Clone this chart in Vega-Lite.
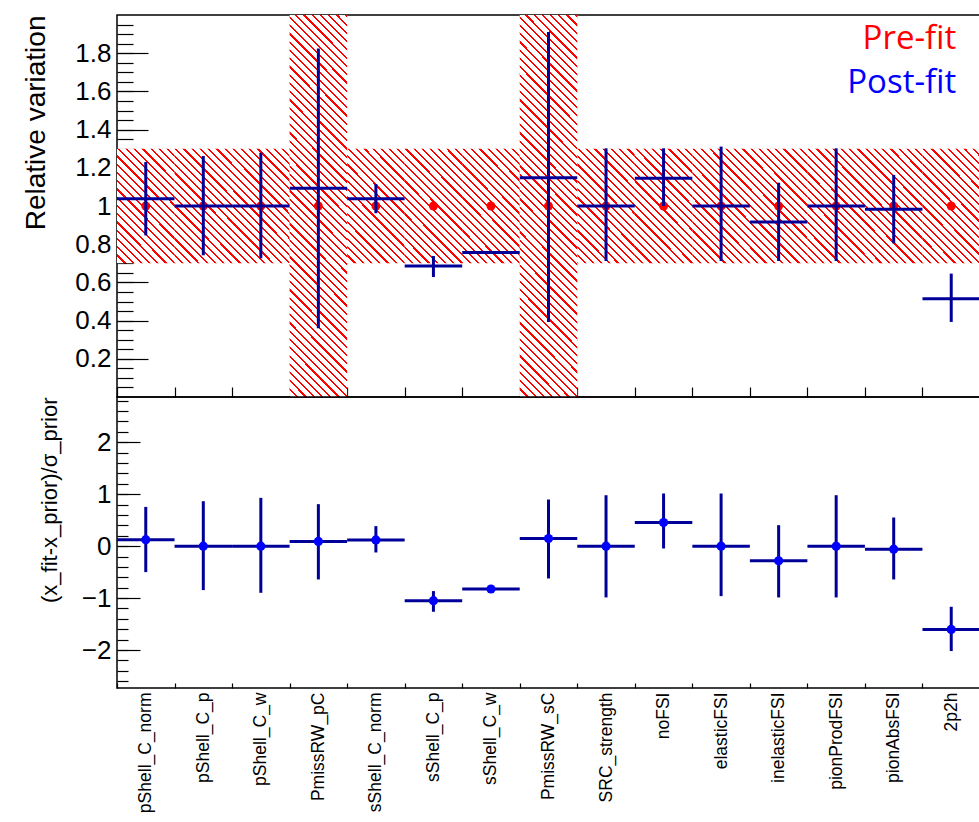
{
  "$schema": "https://vega.github.io/schema/vega-lite/v6.json",
  "padding": {"left": 22, "top": 10, "right": 0, "bottom": 0},
  "background": "white",
  "spacing": 0,
  "bounds": "flush",
  "config": {
    "view": {"stroke": "black", "strokeWidth": 1.5},
    "font": "Liberation Sans",
    "axis": {"domain": false, "grid": false, "zindex": 1, "tickColor": "black", "labelColor": "black", "titleColor": "black", "labelFont": "Liberation Sans", "titleFont": "Liberation Sans", "titleFontWeight": "normal", "labelOverlap": false, "tickWidth": 1.2}
  },
  "data": {"values": [
    {"name": "pShell_C_norm", "pre": 1, "prior_lo": 0.7, "prior_hi": 1.3, "fit": 1.038, "fit_lo": 0.846, "fit_hi": 1.230, "pull": 0.125, "pull_lo": -0.50, "pull_hi": 0.755},
    {"name": "pShell_C_p", "pre": 1, "prior_lo": 0.7, "prior_hi": 1.3, "fit": 1.0, "fit_lo": 0.742, "fit_hi": 1.262, "pull": 0.0, "pull_lo": -0.846, "pull_hi": 0.865},
    {"name": "pShell_C_w", "pre": 1, "prior_lo": 0.7, "prior_hi": 1.3, "fit": 1.0, "fit_lo": 0.726, "fit_hi": 1.279, "pull": 0.0, "pull_lo": -0.898, "pull_hi": 0.929},
    {"name": "PmissRW_pC", "pre": 1, "prior_lo": 0.0, "prior_hi": 2.0, "fit": 1.093, "fit_lo": 0.360, "fit_hi": 1.824, "pull": 0.09, "pull_lo": -0.641, "pull_hi": 0.808},
    {"name": "sShell_C_norm", "pre": 1, "prior_lo": 0.7, "prior_hi": 1.3, "fit": 1.038, "fit_lo": 0.962, "fit_hi": 1.115, "pull": 0.12, "pull_lo": -0.122, "pull_hi": 0.385},
    {"name": "sShell_C_p", "pre": 1, "prior_lo": 0.7, "prior_hi": 1.3, "fit": 0.686, "fit_lo": 0.628, "fit_hi": 0.738, "pull": -1.05, "pull_lo": -1.263, "pull_hi": -0.865},
    {"name": "sShell_C_w", "pre": 1, "prior_lo": 0.7, "prior_hi": 1.3, "fit": 0.757, "fit_lo": 0.752, "fit_hi": 0.762, "pull": -0.825, "pull_lo": -0.845, "pull_hi": -0.805},
    {"name": "PmissRW_sC", "pre": 1, "prior_lo": 0.0, "prior_hi": 2.0, "fit": 1.148, "fit_lo": 0.393, "fit_hi": 1.911, "pull": 0.147, "pull_lo": -0.622, "pull_hi": 0.897},
    {"name": "SRC_strength", "pre": 1, "prior_lo": 0.7, "prior_hi": 1.3, "fit": 1.0, "fit_lo": 0.712, "fit_hi": 1.302, "pull": 0.0, "pull_lo": -0.987, "pull_hi": 0.98},
    {"name": "noFSI", "pre": 1, "prior_lo": 0.7, "prior_hi": 1.3, "fit": 1.145, "fit_lo": 1.0, "fit_hi": 1.302, "pull": 0.455, "pull_lo": -0.045, "pull_hi": 1.013},
    {"name": "elasticFSI", "pre": 1, "prior_lo": 0.7, "prior_hi": 1.3, "fit": 1.0, "fit_lo": 0.712, "fit_hi": 1.311, "pull": 0.0, "pull_lo": -0.962, "pull_hi": 1.013},
    {"name": "inelasticFSI", "pre": 1, "prior_lo": 0.7, "prior_hi": 1.3, "fit": 0.916, "fit_lo": 0.712, "fit_hi": 1.122, "pull": -0.282, "pull_lo": -0.987, "pull_hi": 0.404},
    {"name": "pionProdFSI", "pre": 1, "prior_lo": 0.7, "prior_hi": 1.3, "fit": 1.0, "fit_lo": 0.712, "fit_hi": 1.302, "pull": 0.0, "pull_lo": -0.987, "pull_hi": 0.98},
    {"name": "pionAbsFSI", "pre": 1, "prior_lo": 0.7, "prior_hi": 1.3, "fit": 0.983, "fit_lo": 0.805, "fit_hi": 1.162, "pull": -0.058, "pull_lo": -0.641, "pull_hi": 0.551},
    {"name": "2p2h", "pre": 1, "prior_lo": 0.7, "prior_hi": 1.3, "fit": 0.515, "fit_lo": 0.393, "fit_hi": 0.646, "pull": -1.603, "pull_lo": -2.019, "pull_hi": -1.167}
  ]},
  "vconcat": [
    {
      "width": 863,
      "height": 382,
      "layer": [
        {
          "transform": [{"filter": "datum.prior_hi - datum.prior_lo < 1"}],
          "mark": {"type": "rect", "clip": true, "fill": {"gradient": "linear", "x1": 0, "y1": 1, "x2": 0.6049, "y2": -0.1993, "stops": [
            {"offset": 0, "color": "#ff0000"}, {"offset": 0.0064, "color": "#ff0000"}, {"offset": 0.0064, "color": "#ffffff"},
            {"offset": 0.0415, "color": "#ffffff"}, {"offset": 0.0415, "color": "#ff0000"}, {"offset": 0.0543, "color": "#ff0000"}, {"offset": 0.0543, "color": "#ffffff"},
            {"offset": 0.0894, "color": "#ffffff"}, {"offset": 0.0894, "color": "#ff0000"}, {"offset": 0.1022, "color": "#ff0000"}, {"offset": 0.1022, "color": "#ffffff"},
            {"offset": 0.1373, "color": "#ffffff"}, {"offset": 0.1373, "color": "#ff0000"}, {"offset": 0.1501, "color": "#ff0000"}, {"offset": 0.1501, "color": "#ffffff"},
            {"offset": 0.1852, "color": "#ffffff"}, {"offset": 0.1852, "color": "#ff0000"}, {"offset": 0.1980, "color": "#ff0000"}, {"offset": 0.1980, "color": "#ffffff"},
            {"offset": 0.2332, "color": "#ffffff"}, {"offset": 0.2332, "color": "#ff0000"}, {"offset": 0.2460, "color": "#ff0000"}, {"offset": 0.2460, "color": "#ffffff"},
            {"offset": 0.2811, "color": "#ffffff"}, {"offset": 0.2811, "color": "#ff0000"}, {"offset": 0.2939, "color": "#ff0000"}, {"offset": 0.2939, "color": "#ffffff"},
            {"offset": 0.3290, "color": "#ffffff"}, {"offset": 0.3290, "color": "#ff0000"}, {"offset": 0.3418, "color": "#ff0000"}, {"offset": 0.3418, "color": "#ffffff"},
            {"offset": 0.3769, "color": "#ffffff"}, {"offset": 0.3769, "color": "#ff0000"}, {"offset": 0.3897, "color": "#ff0000"}, {"offset": 0.3897, "color": "#ffffff"},
            {"offset": 0.4248, "color": "#ffffff"}, {"offset": 0.4248, "color": "#ff0000"}, {"offset": 0.4376, "color": "#ff0000"}, {"offset": 0.4376, "color": "#ffffff"},
            {"offset": 0.4727, "color": "#ffffff"}, {"offset": 0.4727, "color": "#ff0000"}, {"offset": 0.4855, "color": "#ff0000"}, {"offset": 0.4855, "color": "#ffffff"},
            {"offset": 0.5206, "color": "#ffffff"}, {"offset": 0.5206, "color": "#ff0000"}, {"offset": 0.5334, "color": "#ff0000"}, {"offset": 0.5334, "color": "#ffffff"},
            {"offset": 0.5685, "color": "#ffffff"}, {"offset": 0.5685, "color": "#ff0000"}, {"offset": 0.5813, "color": "#ff0000"}, {"offset": 0.5813, "color": "#ffffff"},
            {"offset": 0.6165, "color": "#ffffff"}, {"offset": 0.6165, "color": "#ff0000"}, {"offset": 0.6293, "color": "#ff0000"}, {"offset": 0.6293, "color": "#ffffff"},
            {"offset": 0.6644, "color": "#ffffff"}, {"offset": 0.6644, "color": "#ff0000"}, {"offset": 0.6772, "color": "#ff0000"}, {"offset": 0.6772, "color": "#ffffff"},
            {"offset": 0.7123, "color": "#ffffff"}, {"offset": 0.7123, "color": "#ff0000"}, {"offset": 0.7251, "color": "#ff0000"}, {"offset": 0.7251, "color": "#ffffff"},
            {"offset": 0.7602, "color": "#ffffff"}, {"offset": 0.7602, "color": "#ff0000"}, {"offset": 0.7730, "color": "#ff0000"}, {"offset": 0.7730, "color": "#ffffff"},
            {"offset": 0.8081, "color": "#ffffff"}, {"offset": 0.8081, "color": "#ff0000"}, {"offset": 0.8209, "color": "#ff0000"}, {"offset": 0.8209, "color": "#ffffff"},
            {"offset": 0.8560, "color": "#ffffff"}, {"offset": 0.8560, "color": "#ff0000"}, {"offset": 0.8688, "color": "#ff0000"}, {"offset": 0.8688, "color": "#ffffff"},
            {"offset": 0.9039, "color": "#ffffff"}, {"offset": 0.9039, "color": "#ff0000"}, {"offset": 0.9167, "color": "#ff0000"}, {"offset": 0.9167, "color": "#ffffff"},
            {"offset": 0.9518, "color": "#ffffff"}, {"offset": 0.9518, "color": "#ff0000"}, {"offset": 0.9646, "color": "#ff0000"}, {"offset": 0.9646, "color": "#ffffff"},
            {"offset": 1, "color": "#ffffff"}
          ]}},
          "encoding": {
            "x": {"field": "name", "type": "nominal", "sort": null,
              "scale": {"domain": ["pShell_C_norm", "pShell_C_p", "pShell_C_w", "PmissRW_pC", "sShell_C_norm", "sShell_C_p", "sShell_C_w", "PmissRW_sC", "SRC_strength", "noFSI", "elasticFSI", "inelasticFSI", "pionProdFSI", "pionAbsFSI", "2p2h"], "paddingInner": 0, "paddingOuter": 0},
              "axis": {"title": null, "labels": false, "tickBand": "extent", "tickSize": -10}},
            "y": {"field": "prior_lo", "type": "quantitative",
              "scale": {"domain": [0, 2], "nice": false, "zero": false},
              "axis": {"title": "Relative variation", "titleFontSize": 28, "titleAnchor": "end", "titlePadding": 24,
                "values": [0.05,0.1,0.15,0.2,0.25,0.3,0.35,0.4,0.45,0.5,0.55,0.6,0.65,0.7,0.75,0.8,0.85,0.9,0.95,1,1.05,1.1,1.15,1.2,1.25,1.3,1.35,1.4,1.45,1.5,1.55,1.6,1.65,1.7,1.75,1.8,1.85,1.9,1.95],
                "tickCount": 200,
                "format": "~g",
                "labelExpr": "abs(datum.value*5-round(datum.value*5))<0.001 ? datum.label : ''",
                "labelFontSize": 26, "labelPadding": 22,
                "tickSize": -16,
                "grid": true, "gridColor": "black", "gridWidth": 1.2, "gridDash": [31, 4000],
                "gridOpacity": {"condition": {"test": "abs(datum.value*5-round(datum.value*5))<0.001", "value": 1}, "value": 0}}},
            "y2": {"field": "prior_hi"}
          }
        },
        {
          "transform": [{"filter": "datum.prior_hi - datum.prior_lo >= 1"}],
          "mark": {"type": "rect", "clip": true, "fill": {"gradient": "linear", "x1": 0, "y1": 1, "x2": 0.1703, "y2": -0.1256, "stops": [
            {"offset": 0, "color": "#ff0000"}, {"offset": 0.0025, "color": "#ff0000"}, {"offset": 0.0025, "color": "#ffffff"},
            {"offset": 0.0163, "color": "#ffffff"}, {"offset": 0.0163, "color": "#ff0000"}, {"offset": 0.0213, "color": "#ff0000"}, {"offset": 0.0213, "color": "#ffffff"},
            {"offset": 0.0351, "color": "#ffffff"}, {"offset": 0.0351, "color": "#ff0000"}, {"offset": 0.0401, "color": "#ff0000"}, {"offset": 0.0401, "color": "#ffffff"},
            {"offset": 0.0538, "color": "#ffffff"}, {"offset": 0.0538, "color": "#ff0000"}, {"offset": 0.0588, "color": "#ff0000"}, {"offset": 0.0588, "color": "#ffffff"},
            {"offset": 0.0726, "color": "#ffffff"}, {"offset": 0.0726, "color": "#ff0000"}, {"offset": 0.0776, "color": "#ff0000"}, {"offset": 0.0776, "color": "#ffffff"},
            {"offset": 0.0914, "color": "#ffffff"}, {"offset": 0.0914, "color": "#ff0000"}, {"offset": 0.0964, "color": "#ff0000"}, {"offset": 0.0964, "color": "#ffffff"},
            {"offset": 0.1102, "color": "#ffffff"}, {"offset": 0.1102, "color": "#ff0000"}, {"offset": 0.1152, "color": "#ff0000"}, {"offset": 0.1152, "color": "#ffffff"},
            {"offset": 0.1290, "color": "#ffffff"}, {"offset": 0.1290, "color": "#ff0000"}, {"offset": 0.1340, "color": "#ff0000"}, {"offset": 0.1340, "color": "#ffffff"},
            {"offset": 0.1477, "color": "#ffffff"}, {"offset": 0.1477, "color": "#ff0000"}, {"offset": 0.1527, "color": "#ff0000"}, {"offset": 0.1527, "color": "#ffffff"},
            {"offset": 0.1665, "color": "#ffffff"}, {"offset": 0.1665, "color": "#ff0000"}, {"offset": 0.1715, "color": "#ff0000"}, {"offset": 0.1715, "color": "#ffffff"},
            {"offset": 0.1853, "color": "#ffffff"}, {"offset": 0.1853, "color": "#ff0000"}, {"offset": 0.1903, "color": "#ff0000"}, {"offset": 0.1903, "color": "#ffffff"},
            {"offset": 0.2041, "color": "#ffffff"}, {"offset": 0.2041, "color": "#ff0000"}, {"offset": 0.2091, "color": "#ff0000"}, {"offset": 0.2091, "color": "#ffffff"},
            {"offset": 0.2229, "color": "#ffffff"}, {"offset": 0.2229, "color": "#ff0000"}, {"offset": 0.2279, "color": "#ff0000"}, {"offset": 0.2279, "color": "#ffffff"},
            {"offset": 0.2417, "color": "#ffffff"}, {"offset": 0.2417, "color": "#ff0000"}, {"offset": 0.2467, "color": "#ff0000"}, {"offset": 0.2467, "color": "#ffffff"},
            {"offset": 0.2604, "color": "#ffffff"}, {"offset": 0.2604, "color": "#ff0000"}, {"offset": 0.2654, "color": "#ff0000"}, {"offset": 0.2654, "color": "#ffffff"},
            {"offset": 0.2792, "color": "#ffffff"}, {"offset": 0.2792, "color": "#ff0000"}, {"offset": 0.2842, "color": "#ff0000"}, {"offset": 0.2842, "color": "#ffffff"},
            {"offset": 0.2980, "color": "#ffffff"}, {"offset": 0.2980, "color": "#ff0000"}, {"offset": 0.3030, "color": "#ff0000"}, {"offset": 0.3030, "color": "#ffffff"},
            {"offset": 0.3168, "color": "#ffffff"}, {"offset": 0.3168, "color": "#ff0000"}, {"offset": 0.3218, "color": "#ff0000"}, {"offset": 0.3218, "color": "#ffffff"},
            {"offset": 0.3356, "color": "#ffffff"}, {"offset": 0.3356, "color": "#ff0000"}, {"offset": 0.3406, "color": "#ff0000"}, {"offset": 0.3406, "color": "#ffffff"},
            {"offset": 0.3543, "color": "#ffffff"}, {"offset": 0.3543, "color": "#ff0000"}, {"offset": 0.3593, "color": "#ff0000"}, {"offset": 0.3593, "color": "#ffffff"},
            {"offset": 0.3731, "color": "#ffffff"}, {"offset": 0.3731, "color": "#ff0000"}, {"offset": 0.3781, "color": "#ff0000"}, {"offset": 0.3781, "color": "#ffffff"},
            {"offset": 0.3919, "color": "#ffffff"}, {"offset": 0.3919, "color": "#ff0000"}, {"offset": 0.3969, "color": "#ff0000"}, {"offset": 0.3969, "color": "#ffffff"},
            {"offset": 0.4107, "color": "#ffffff"}, {"offset": 0.4107, "color": "#ff0000"}, {"offset": 0.4157, "color": "#ff0000"}, {"offset": 0.4157, "color": "#ffffff"},
            {"offset": 0.4295, "color": "#ffffff"}, {"offset": 0.4295, "color": "#ff0000"}, {"offset": 0.4345, "color": "#ff0000"}, {"offset": 0.4345, "color": "#ffffff"},
            {"offset": 0.4482, "color": "#ffffff"}, {"offset": 0.4482, "color": "#ff0000"}, {"offset": 0.4532, "color": "#ff0000"}, {"offset": 0.4532, "color": "#ffffff"},
            {"offset": 0.4670, "color": "#ffffff"}, {"offset": 0.4670, "color": "#ff0000"}, {"offset": 0.4720, "color": "#ff0000"}, {"offset": 0.4720, "color": "#ffffff"},
            {"offset": 0.4858, "color": "#ffffff"}, {"offset": 0.4858, "color": "#ff0000"}, {"offset": 0.4908, "color": "#ff0000"}, {"offset": 0.4908, "color": "#ffffff"},
            {"offset": 0.5046, "color": "#ffffff"}, {"offset": 0.5046, "color": "#ff0000"}, {"offset": 0.5096, "color": "#ff0000"}, {"offset": 0.5096, "color": "#ffffff"},
            {"offset": 0.5234, "color": "#ffffff"}, {"offset": 0.5234, "color": "#ff0000"}, {"offset": 0.5284, "color": "#ff0000"}, {"offset": 0.5284, "color": "#ffffff"},
            {"offset": 0.5421, "color": "#ffffff"}, {"offset": 0.5421, "color": "#ff0000"}, {"offset": 0.5471, "color": "#ff0000"}, {"offset": 0.5471, "color": "#ffffff"},
            {"offset": 0.5609, "color": "#ffffff"}, {"offset": 0.5609, "color": "#ff0000"}, {"offset": 0.5659, "color": "#ff0000"}, {"offset": 0.5659, "color": "#ffffff"},
            {"offset": 0.5797, "color": "#ffffff"}, {"offset": 0.5797, "color": "#ff0000"}, {"offset": 0.5847, "color": "#ff0000"}, {"offset": 0.5847, "color": "#ffffff"},
            {"offset": 0.5985, "color": "#ffffff"}, {"offset": 0.5985, "color": "#ff0000"}, {"offset": 0.6035, "color": "#ff0000"}, {"offset": 0.6035, "color": "#ffffff"},
            {"offset": 0.6173, "color": "#ffffff"}, {"offset": 0.6173, "color": "#ff0000"}, {"offset": 0.6223, "color": "#ff0000"}, {"offset": 0.6223, "color": "#ffffff"},
            {"offset": 0.6361, "color": "#ffffff"}, {"offset": 0.6361, "color": "#ff0000"}, {"offset": 0.6411, "color": "#ff0000"}, {"offset": 0.6411, "color": "#ffffff"},
            {"offset": 0.6548, "color": "#ffffff"}, {"offset": 0.6548, "color": "#ff0000"}, {"offset": 0.6598, "color": "#ff0000"}, {"offset": 0.6598, "color": "#ffffff"},
            {"offset": 0.6736, "color": "#ffffff"}, {"offset": 0.6736, "color": "#ff0000"}, {"offset": 0.6786, "color": "#ff0000"}, {"offset": 0.6786, "color": "#ffffff"},
            {"offset": 0.6924, "color": "#ffffff"}, {"offset": 0.6924, "color": "#ff0000"}, {"offset": 0.6974, "color": "#ff0000"}, {"offset": 0.6974, "color": "#ffffff"},
            {"offset": 0.7112, "color": "#ffffff"}, {"offset": 0.7112, "color": "#ff0000"}, {"offset": 0.7162, "color": "#ff0000"}, {"offset": 0.7162, "color": "#ffffff"},
            {"offset": 0.7300, "color": "#ffffff"}, {"offset": 0.7300, "color": "#ff0000"}, {"offset": 0.7350, "color": "#ff0000"}, {"offset": 0.7350, "color": "#ffffff"},
            {"offset": 0.7487, "color": "#ffffff"}, {"offset": 0.7487, "color": "#ff0000"}, {"offset": 0.7537, "color": "#ff0000"}, {"offset": 0.7537, "color": "#ffffff"},
            {"offset": 0.7675, "color": "#ffffff"}, {"offset": 0.7675, "color": "#ff0000"}, {"offset": 0.7725, "color": "#ff0000"}, {"offset": 0.7725, "color": "#ffffff"},
            {"offset": 0.7863, "color": "#ffffff"}, {"offset": 0.7863, "color": "#ff0000"}, {"offset": 0.7913, "color": "#ff0000"}, {"offset": 0.7913, "color": "#ffffff"},
            {"offset": 0.8051, "color": "#ffffff"}, {"offset": 0.8051, "color": "#ff0000"}, {"offset": 0.8101, "color": "#ff0000"}, {"offset": 0.8101, "color": "#ffffff"},
            {"offset": 0.8239, "color": "#ffffff"}, {"offset": 0.8239, "color": "#ff0000"}, {"offset": 0.8289, "color": "#ff0000"}, {"offset": 0.8289, "color": "#ffffff"},
            {"offset": 0.8426, "color": "#ffffff"}, {"offset": 0.8426, "color": "#ff0000"}, {"offset": 0.8476, "color": "#ff0000"}, {"offset": 0.8476, "color": "#ffffff"},
            {"offset": 0.8614, "color": "#ffffff"}, {"offset": 0.8614, "color": "#ff0000"}, {"offset": 0.8664, "color": "#ff0000"}, {"offset": 0.8664, "color": "#ffffff"},
            {"offset": 0.8802, "color": "#ffffff"}, {"offset": 0.8802, "color": "#ff0000"}, {"offset": 0.8852, "color": "#ff0000"}, {"offset": 0.8852, "color": "#ffffff"},
            {"offset": 0.8990, "color": "#ffffff"}, {"offset": 0.8990, "color": "#ff0000"}, {"offset": 0.9040, "color": "#ff0000"}, {"offset": 0.9040, "color": "#ffffff"},
            {"offset": 0.9178, "color": "#ffffff"}, {"offset": 0.9178, "color": "#ff0000"}, {"offset": 0.9228, "color": "#ff0000"}, {"offset": 0.9228, "color": "#ffffff"},
            {"offset": 0.9366, "color": "#ffffff"}, {"offset": 0.9366, "color": "#ff0000"}, {"offset": 0.9416, "color": "#ff0000"}, {"offset": 0.9416, "color": "#ffffff"},
            {"offset": 0.9553, "color": "#ffffff"}, {"offset": 0.9553, "color": "#ff0000"}, {"offset": 0.9603, "color": "#ff0000"}, {"offset": 0.9603, "color": "#ffffff"},
            {"offset": 0.9741, "color": "#ffffff"}, {"offset": 0.9741, "color": "#ff0000"}, {"offset": 0.9791, "color": "#ff0000"}, {"offset": 0.9791, "color": "#ffffff"},
            {"offset": 0.9929, "color": "#ffffff"}, {"offset": 0.9929, "color": "#ff0000"}, {"offset": 0.9979, "color": "#ff0000"}, {"offset": 0.9979, "color": "#ffffff"},
            {"offset": 1, "color": "#ffffff"}
          ]}},
          "encoding": {
            "x": {"field": "name", "type": "nominal", "sort": null},
            "y": {"field": "prior_lo", "type": "quantitative"},
            "y2": {"field": "prior_hi"}
          }
        },
        {
          "mark": {"type": "point", "filled": true, "color": "#ff0000", "size": 80, "opacity": 1},
          "encoding": {
            "x": {"field": "name", "type": "nominal", "sort": null},
            "y": {"field": "pre", "type": "quantitative"}
          }
        },
        {
          "mark": {"type": "tick", "orient": "horizontal", "color": "#000099", "thickness": 3, "size": 57.5, "opacity": 1},
          "encoding": {
            "x": {"field": "name", "type": "nominal", "sort": null},
            "y": {"field": "fit", "type": "quantitative"}
          }
        },
        {
          "mark": {"type": "rule", "color": "#000099", "strokeWidth": 3},
          "encoding": {
            "x": {"field": "name", "type": "nominal", "sort": null},
            "y": {"field": "fit_lo", "type": "quantitative"},
            "y2": {"field": "fit_hi"}
          }
        },
        {
          "data": {"values": [{"series": "Pre-fit"}]},
          "mark": {"type": "text", "align": "right", "baseline": "alphabetic", "font": "Open Sans", "fontSize": 33, "color": "#ff0000", "dx": 5},
          "encoding": {
            "x": {"datum": "2p2h", "type": "nominal"},
            "y": {"datum": 1.822, "type": "quantitative"},
            "text": {"field": "series"}
          }
        },
        {
          "data": {"values": [{"series": "Post-fit"}]},
          "mark": {"type": "text", "align": "right", "baseline": "alphabetic", "font": "Open Sans", "fontSize": 33, "color": "#0000ff", "dx": 5},
          "encoding": {
            "x": {"datum": "2p2h", "type": "nominal"},
            "y": {"datum": 1.592, "type": "quantitative"},
            "text": {"field": "series"}
          }
        }
      ]
    },
    {
      "width": 863,
      "height": 291,
      "layer": [
        {
          "mark": {"type": "tick", "orient": "horizontal", "color": "#000099", "thickness": 3, "size": 57.5, "opacity": 1},
          "encoding": {
            "x": {"field": "name", "type": "nominal", "sort": null,
              "scale": {"domain": ["pShell_C_norm", "pShell_C_p", "pShell_C_w", "PmissRW_pC", "sShell_C_norm", "sShell_C_p", "sShell_C_w", "PmissRW_sC", "SRC_strength", "noFSI", "elasticFSI", "inelasticFSI", "pionProdFSI", "pionAbsFSI", "2p2h"], "paddingInner": 0, "paddingOuter": 0},
              "axis": {"title": null, "labelAngle": -90, "labelAlign": "right", "labelBaseline": "middle", "labelFontSize": 17.5, "labelPadding": 9, "tickBand": "extent", "tickSize": -5}},
            "y": {"field": "pull", "type": "quantitative",
              "scale": {"domain": [-2.73, 2.87], "nice": false, "zero": false},
              "axis": {"title": "(x_fit-x_prior)/σ_prior", "titleFontSize": 22, "titleAnchor": "end", "titlePadding": 20,
                "values": [-2.6,-2.4,-2.2,-2,-1.8,-1.6,-1.4,-1.2,-1,-0.8,-0.6,-0.4,-0.2,0,0.2,0.4,0.6,0.8,1,1.2,1.4,1.6,1.8,2,2.2,2.4,2.6,2.8],
                "tickCount": 200,
                "format": "~g",
                "labelExpr": "abs(datum.value-round(datum.value))<0.001 ? datum.label : ''",
                "labelFontSize": 26, "labelPadding": 17,
                "tickSize": -11,
                "grid": true, "gridColor": "black", "gridWidth": 1.2, "gridDash": [23, 4000],
                "gridOpacity": {"condition": {"test": "abs(datum.value-round(datum.value))<0.001", "value": 1}, "value": 0}}}
          }
        },
        {
          "mark": {"type": "rule", "color": "#000099", "strokeWidth": 3},
          "encoding": {
            "x": {"field": "name", "type": "nominal", "sort": null},
            "y": {"field": "pull_lo", "type": "quantitative"},
            "y2": {"field": "pull_hi"}
          }
        },
        {
          "mark": {"type": "point", "filled": true, "color": "#0000ff", "size": 85, "opacity": 1},
          "encoding": {
            "x": {"field": "name", "type": "nominal", "sort": null},
            "y": {"field": "pull", "type": "quantitative"}
          }
        }
      ]
    }
  ]
}
